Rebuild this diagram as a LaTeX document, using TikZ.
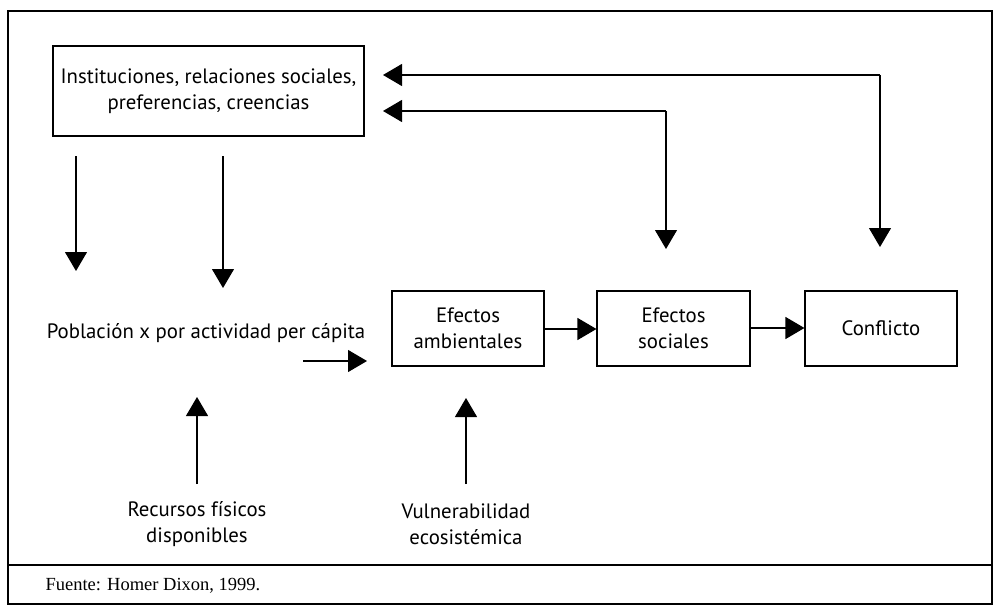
\documentclass[tikz,border=0pt]{standalone}
\usepackage{fontspec}
\setmainfont{PT Sans}
\newfontfamily\srcfont{Liberation Serif}
\usetikzlibrary{arrows.meta}
\begin{document}
\begin{tikzpicture}[x=1pt,y=-1pt,
  line width=1.1pt,
  every node/.style={font=\fontsize{20.8}{26}\selectfont, align=center, inner sep=0pt},
  boxnode/.style={draw, line width=1.1pt},
  arr/.style={-{Triangle[length=19pt,width=22pt]}}]
\useasboundingbox (0,0) rectangle (993,607);
% frame
\draw[line width=1.2pt] (8,11) rectangle (992,604);
\draw[line width=1.2pt] (8,565) -- (992,565);
\node[anchor=west, font=\srcfont\fontsize{18.5}{20}\selectfont] (src) at (45,586) {Fuente: Homer Dixon, 1999.};
% nodes
\node[boxnode, minimum width=311pt, minimum height=90pt] (inst) at (208.5,91) {Instituciones, relaciones sociales,\\preferencias, creencias};
\node (pob) at (206,333) {Población x por actividad per cápita};
\node[boxnode, minimum width=152pt, minimum height=75pt] (amb) at (468,328.5) {Efectos\\ambientales};
\node[boxnode, minimum width=153pt, minimum height=75pt] (soc) at (673.5,328.5) {Efectos\\sociales};
\node[boxnode, minimum width=152pt, minimum height=75pt] (conf) at (881,328.5) {Conflicto};
\node (rec) at (197,524) {Recursos físicos\\disponibles};
\node (vul) at (466,524) {Vulnerabilidad\\ecosistémica};
% coordinates
\coordinate (d1s) at (76,156); \coordinate (d1e) at (76,271);
\coordinate (d2s) at (223,156); \coordinate (d2e) at (223,288);
\coordinate (f1s) at (880,247); \coordinate (f1c) at (880,75); \coordinate (f1e) at (383,75);
\coordinate (f2s) at (666,249); \coordinate (f2c) at (666,111); \coordinate (f2e) at (383,111);
\coordinate (ps) at (303,361); \coordinate (pe) at (367,361);
\coordinate (u1s) at (197,484); \coordinate (u1e) at (197,397);
\coordinate (u2s) at (466,484); \coordinate (u2e) at (466,398);
% connectors
\draw[arr] (d1s) -- (d1e);
\draw[arr] (d2s) -- (d2e);
\draw[arr] (f1c) -- (f1s);
\draw[arr] (f1c) -- (f1e);
\draw[arr] (f2c) -- (f2s);
\draw[arr] (f2c) -- (f2e);
\draw[arr] (ps) -- (pe);
\draw[arr] (u1s) -- (u1e);
\draw[arr] (u2s) -- (u2e);
\draw[arr] (amb.east |- 0,329) -- (soc.west |- 0,329);
\draw[arr] (soc.east |- 0,328) -- (conf.west |- 0,328);
\end{tikzpicture}
\end{document}
